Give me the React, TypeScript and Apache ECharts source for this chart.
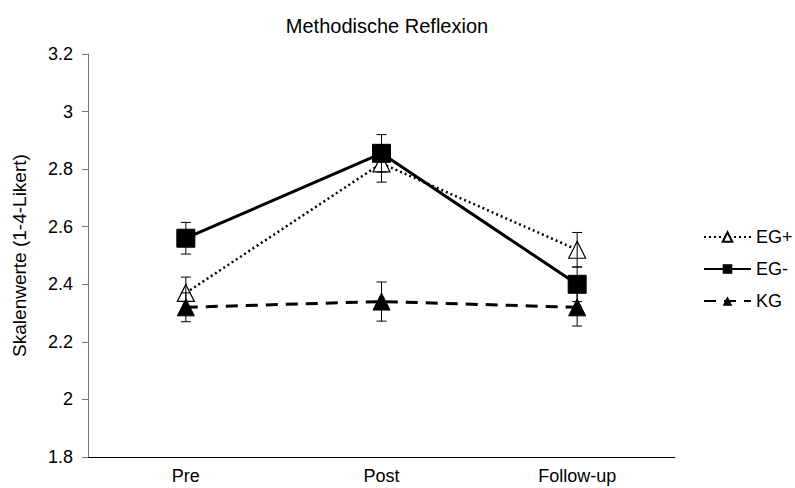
import React, { useEffect, useRef } from "react";
import * as echarts from "echarts";

const categories = ["Pre", "Post", "Follow-up"];
const egPlus = [2.37, 2.82, 2.52];
const egPlusErr = [0.055, 0.065, 0.06];
const egMinus = [2.56, 2.855, 2.4];
const egMinusErr = [0.055, 0.065, 0.06];
const kg = [2.32, 2.34, 2.32];
const kgErr = [0.05, 0.068, 0.065];

const FONT = "Liberation Sans";

export default function App() {
  const ref = useRef<HTMLDivElement>(null);
  useEffect(() => {
    if (!ref.current) return;
    const chart = echarts.init(ref.current, undefined, { renderer: "svg" });
    const errData: number[][] = [];
    [
      [egPlus, egPlusErr],
      [egMinus, egMinusErr],
      [kg, kgErr],
    ].forEach(([vals, errs]) => {
      vals.forEach((v, i) => errData.push([i, v - errs[i], v + errs[i]]));
    });
    chart.setOption({
      animation: false,
      backgroundColor: "#fff",
      title: {
        text: "Methodische Reflexion",
        left: 382,
        textAlign: "center",
        top: 11,
        textStyle: { fontFamily: FONT, fontSize: 20, fontWeight: "normal", color: "#000" },
      },
      legend: {
        data: ["EG+", "EG-", "KG"],
        orient: "vertical",
        left: 698,
        top: 223,
        itemWidth: 47,
        itemHeight: 12,
        itemGap: 14,
        textStyle: { fontFamily: FONT, fontSize: 18, color: "#000" },
      },
      grid: { left: 88, right: 120, top: 54, bottom: 31, containLabel: false },
      xAxis: {
        type: "category",
        data: categories,
        boundaryGap: true,
        axisLine: { lineStyle: { color: "#000", width: 1 } },
        axisTick: { inside: true, length: 6, lineStyle: { color: "#000" } },
        axisLabel: { fontFamily: FONT, fontSize: 18, color: "#000", margin: 10 },
        splitLine: { show: false },
      },
      yAxis: {
        type: "value",
        min: 1.8,
        max: 3.2,
        interval: 0.2,
        name: "Skalenwerte (1-4-Likert)",
        nameLocation: "middle",
        nameGap: 59,
        nameTextStyle: { fontFamily: FONT, fontSize: 19, color: "#000" },
        axisLine: { show: true, lineStyle: { color: "#777", width: 1 } },
        axisTick: { show: true, inside: false, length: 6, lineStyle: { color: "#777" } },
        axisLabel: { fontFamily: FONT, fontSize: 18, color: "#000", margin: 15 },
        splitLine: { show: false },
      },
      series: [
        {
          name: "EG+",
          type: "line",
          data: egPlus,
          symbol: "triangle",
          symbolSize: 17,
          lineStyle: { color: "#000", width: 2.5, type: [2, 3] },
          itemStyle: { color: "#fff", borderColor: "#000", borderWidth: 1.2 },
          z: 3,
        },
        {
          name: "EG-",
          type: "line",
          data: egMinus,
          symbol: "rect",
          symbolSize: 18,
          lineStyle: { color: "#000", width: 3, type: "solid" },
          itemStyle: { color: "#000", borderColor: "#000" },
          z: 4,
        },
        {
          name: "KG",
          type: "line",
          data: kg,
          symbol: "triangle",
          symbolSize: 17,
          lineStyle: { color: "#000", width: 3, type: [12, 8] },
          itemStyle: { color: "#000", borderColor: "#000" },
          z: 5,
        },
        {
          name: "err",
          type: "custom",
          data: errData,
          encode: { x: 0, y: [1, 2] },
          z: 10,
          silent: true,
          renderItem: (params: any, api: any) => {
            const x = api.value(0);
            const lo = api.coord([x, api.value(1)]);
            const hi = api.coord([x, api.value(2)]);
            const hw = 5;
            const style = { stroke: "#000", lineWidth: 1 };
            return {
              type: "group",
              children: [
                { type: "line", shape: { x1: lo[0], y1: lo[1], x2: hi[0], y2: hi[1] }, style },
                { type: "line", shape: { x1: lo[0] - hw, y1: lo[1], x2: lo[0] + hw, y2: lo[1] }, style },
                { type: "line", shape: { x1: hi[0] - hw, y1: hi[1], x2: hi[0] + hw, y2: hi[1] }, style },
              ],
            };
          },
        },
      ],
    });
    return () => chart.dispose();
  }, []);
  return <div ref={ref} style={{ position: "fixed", left: 0, top: 0, width: 795, height: 488 }} />;
}
